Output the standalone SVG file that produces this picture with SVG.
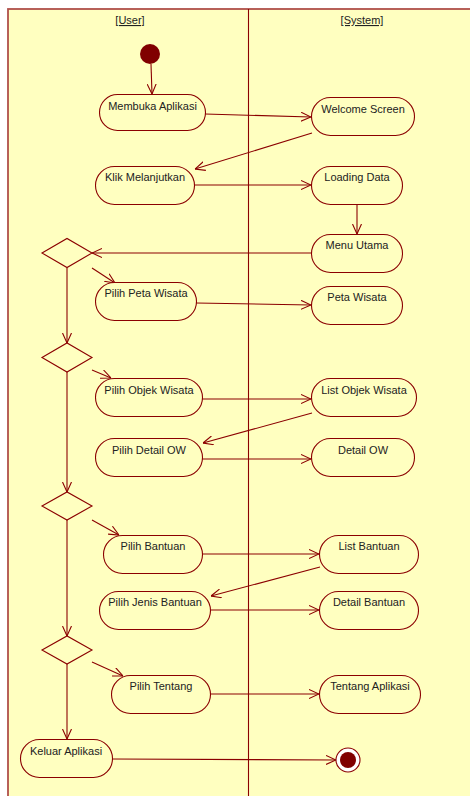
<svg xmlns="http://www.w3.org/2000/svg" width="470" height="796" viewBox="0 0 470 796">
<defs>
<marker id="arr" viewBox="0 0 10 10" refX="10" refY="5" markerWidth="10" markerHeight="10" markerUnits="userSpaceOnUse" orient="auto">
<path d="M0,0.5 L10,5 L0,9.5" fill="none" stroke="#8b0000" stroke-width="1.1"/>
</marker>
<style>
.act{fill:#ffffc0;stroke:#8b0000;stroke-width:1.1}
.dec{fill:#ffffc0;stroke:#8b0000;stroke-width:1.1}
.lbl{font-family:"Liberation Sans",Arial,sans-serif;font-size:11px;fill:#222;text-anchor:middle}
.hdr{font-family:"Liberation Sans",Arial,sans-serif;font-size:11px;fill:#222;text-anchor:middle;text-decoration:underline}
.con{fill:none;stroke:#8b0000;stroke-width:1.1;marker-end:url(#arr)}
</style>
</defs>
<rect x="0" y="0" width="470" height="796" fill="#ffffff"/>
<g id="frame">
<rect x="8" y="9" width="470" height="800" fill="#ffffc0" stroke="#b0504a" stroke-width="1.8"/>
<line x1="248.5" y1="9" x2="248.5" y2="796" stroke="#8b0000" stroke-width="1.1"/>
<text class="hdr" x="130" y="24">[User]</text>
<text class="hdr" x="362" y="24">[System]</text>
</g>
<g id="connectors">
<line class="con" x1="151" y1="64" x2="152" y2="94"/>
<line class="con" x1="205" y1="114" x2="311" y2="117"/>
<line class="con" x1="312" y1="133" x2="195" y2="169"/>
<line class="con" x1="194" y1="185" x2="311" y2="185"/>
<line class="con" x1="357" y1="204" x2="357" y2="234"/>
<line class="con" x1="311" y1="253" x2="92" y2="253"/>
<line class="con" x1="92" y1="268" x2="115" y2="283"/>
<line class="con" x1="196" y1="303" x2="311" y2="305"/>
<line class="con" x1="67" y1="268" x2="67" y2="343"/>
<line class="con" x1="92" y1="370" x2="111" y2="378"/>
<line class="con" x1="202" y1="399" x2="311" y2="399"/>
<line class="con" x1="312" y1="413" x2="203" y2="443"/>
<line class="con" x1="202" y1="459" x2="311" y2="459"/>
<line class="con" x1="67" y1="372" x2="67" y2="492"/>
<line class="con" x1="92" y1="520" x2="119" y2="535"/>
<line class="con" x1="202" y1="554" x2="319" y2="554"/>
<line class="con" x1="320" y1="567" x2="211" y2="596"/>
<line class="con" x1="210" y1="610" x2="319" y2="610"/>
<line class="con" x1="67" y1="520" x2="67" y2="636"/>
<line class="con" x1="92" y1="662" x2="123" y2="676"/>
<line class="con" x1="210" y1="694" x2="319" y2="694"/>
<line class="con" x1="67" y1="664" x2="67" y2="739"/>
<line class="con" x1="112" y1="759" x2="336" y2="760"/>
</g>
<g id="start"><circle cx="150" cy="54" r="10" fill="#800000"/></g>
<g id="n-membuka"><rect class="act" x="99.5" y="94.5" width="106" height="36" rx="18"/><text class="lbl" x="152.5" y="110">Membuka Aplikasi</text></g>
<g id="n-welcome"><rect class="act" x="311.5" y="97.5" width="103" height="38" rx="19"/><text class="lbl" x="363" y="113">Welcome Screen</text></g>
<g id="n-klik"><rect class="act" x="95.5" y="166.5" width="99" height="38" rx="19"/><text class="lbl" x="145" y="181">Klik Melanjutkan</text></g>
<g id="n-loading"><rect class="act" x="311.5" y="166.5" width="91" height="38" rx="19"/><text class="lbl" x="357" y="181">Loading Data</text></g>
<g id="n-menu"><rect class="act" x="311.5" y="234.5" width="91" height="38" rx="19"/><text class="lbl" x="357" y="249">Menu Utama</text></g>
<g id="d1"><polygon class="dec" points="42,253 67,238.5 92,253 67,267.5"/></g>
<g id="n-pilihpeta"><rect class="act" x="95.5" y="282.5" width="101" height="38" rx="19"/><text class="lbl" x="146" y="297">Pilih Peta Wisata</text></g>
<g id="n-peta"><rect class="act" x="311.5" y="286.5" width="91" height="38" rx="19"/><text class="lbl" x="357" y="301">Peta Wisata</text></g>
<g id="d2"><polygon class="dec" points="42,357.5 67,343 92,357.5 67,372"/></g>
<g id="n-pilihobjek"><rect class="act" x="95.5" y="378.5" width="107" height="38" rx="19"/><text class="lbl" x="149" y="394">Pilih Objek Wisata</text></g>
<g id="n-listobjek"><rect class="act" x="311.5" y="378.5" width="105" height="38" rx="19"/><text class="lbl" x="364" y="394">List Objek Wisata</text></g>
<g id="n-pilihdetail"><rect class="act" x="95.5" y="438.5" width="107" height="38" rx="19"/><text class="lbl" x="149" y="454">Pilih Detail OW</text></g>
<g id="n-detailow"><rect class="act" x="311.5" y="438.5" width="103" height="38" rx="19"/><text class="lbl" x="363" y="454">Detail OW</text></g>
<g id="d3"><polygon class="dec" points="42,506 67,492 92,506 67,520"/></g>
<g id="n-pilihbantuan"><rect class="act" x="103.5" y="535.5" width="99" height="38" rx="19"/><text class="lbl" x="153" y="550">Pilih Bantuan</text></g>
<g id="n-listbantuan"><rect class="act" x="319.5" y="535.5" width="99" height="38" rx="19"/><text class="lbl" x="369" y="550">List Bantuan</text></g>
<g id="n-pilihjenis"><rect class="act" x="99.5" y="591.5" width="111" height="38" rx="19"/><text class="lbl" x="155" y="606">Pilih Jenis Bantuan</text></g>
<g id="n-detailbantuan"><rect class="act" x="319.5" y="591.5" width="99" height="38" rx="19"/><text class="lbl" x="369" y="606">Detail Bantuan</text></g>
<g id="d4"><polygon class="dec" points="42,650 67,636 92,650 67,664"/></g>
<g id="n-pilihtentang"><rect class="act" x="111.5" y="675.5" width="99" height="38" rx="19"/><text class="lbl" x="161" y="690">Pilih Tentang</text></g>
<g id="n-tentang"><rect class="act" x="319.5" y="675.5" width="101" height="38" rx="19"/><text class="lbl" x="370" y="690">Tentang Aplikasi</text></g>
<g id="n-keluar"><rect class="act" x="20.5" y="739.5" width="92" height="38" rx="19"/><text class="lbl" x="66" y="755">Keluar Aplikasi</text></g>
<g id="end"><circle cx="348" cy="760" r="12" fill="#ffffff" stroke="#8b0000" stroke-width="1.1"/><circle cx="348" cy="760" r="8" fill="#800000"/></g>
</svg>
